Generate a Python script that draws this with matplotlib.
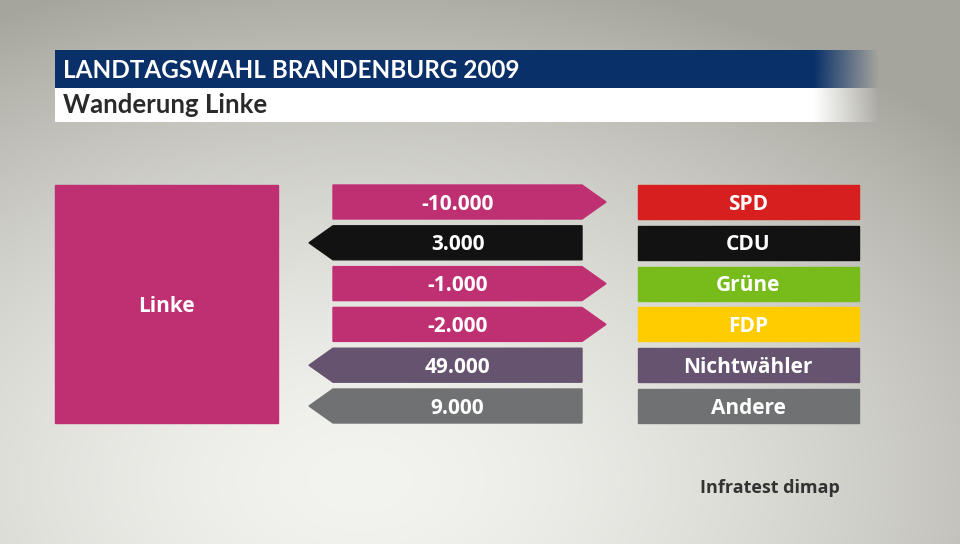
import numpy as np
import matplotlib.pyplot as plt
from matplotlib.patches import Polygon, Rectangle

# =========================
# data
# =========================
parties = ["SPD", "CDU", "Grüne", "FDP", "Nichtwähler", "Andere"]
values = [-10000, 3000, -1000, -2000, 49000, 9000]
party_colors = ["#d81f1f", "#121212", "#78bc1b", "#ffcc00", "#66536f", "#707172"]
source_party = "Linke"
source_color = "#bf3073"
title = "LANDTAGSWAHL BRANDENBURG 2009"
subtitle = "Wanderung Linke"
credit = "Infratest dimap"

FONT = "Lato"
BOXFONT = "Open Sans"
W, H = 960, 544

fig = plt.figure(figsize=(W / 100, H / 100), dpi=100)
ax = fig.add_axes([0, 0, 1, 1])
ax.set_xlim(0, W)
ax.set_ylim(H, 0)
ax.axis("off")

# =========================
# background gradient
# =========================
yy, xx = np.mgrid[0:H, 0:W]
r = np.sqrt(((xx - 360) / 820) ** 2 + ((yy - 480) / 520) ** 2)
t = np.clip(r, 0, 1) ** 1.6
light = np.array([243, 243, 239]) / 255
dark = np.array([166, 165, 157]) / 255
bg = light[None, None, :] * (1 - t[..., None]) + dark[None, None, :] * t[..., None]
ax.imshow(bg, extent=[0, W, H, 0], zorder=0, aspect="auto")

# =========================
# header bars with right fade
# =========================
def fade_bar(x0, x1, y0, y1, color, fade_start):
    rgb = np.array(plt.matplotlib.colors.to_rgb(color))
    xs = np.linspace(x0, x1, 400)
    alpha = np.clip((x1 - xs) / (x1 - fade_start), 0, 1)
    img = np.zeros((1, 400, 4))
    img[0, :, :3] = rgb
    img[0, :, 3] = alpha
    ax.imshow(img, extent=[x0, x1, y1, y0], zorder=1, aspect="auto",
              interpolation="bilinear")

fade_bar(55, 880, 50, 88, "#0a3069", 815)
fade_bar(55, 880, 88, 122, "#ffffff", 815)
ax.text(63, 70, title, color="white", fontsize=17.5, fontweight="bold",
        family=FONT, va="center", ha="left", zorder=2)
ax.text(63, 105, subtitle, color="#2a2a2a", fontsize=18.5, fontweight="bold",
        family=FONT, va="center", ha="left", zorder=2)

# =========================
# source box
# =========================
ax.add_patch(Rectangle((55, 185), 223, 238, color=source_color, zorder=2))
ax.text(166, 306, source_party, color="white", fontsize=15, fontweight="bold",
        family=BOXFONT, ha="center", va="center", zorder=3)

# =========================
# arrows + party boxes
# =========================
top0, step, h = 185, 40.8, 34
bx0, bx1, tip = 333, 582, 24
for i, (p, v, c) in enumerate(zip(parties, values, party_colors)):
    y0 = top0 + i * step
    y1 = y0 + h
    ym = (y0 + y1) / 2
    if v < 0:
        pts = [(bx0, y0), (bx1, y0), (bx1 + tip, ym), (bx1, y1), (bx0, y1)]
        col = source_color
    else:
        pts = [(bx0 - tip, ym), (bx0, y0), (bx1, y0), (bx1, y1), (bx0, y1)]
        col = c
    ax.add_patch(Polygon(pts, closed=True, color=col, zorder=2))
    label = f"{v:,}".replace(",", ".")
    ax.text((bx0 + bx1) / 2, ym + 2, label, color="white", fontsize=15,
            fontweight="bold", family=BOXFONT, ha="center", va="center", zorder=3)

    ax.add_patch(Rectangle((638, y0), 221, h, color=c, zorder=2))
    ax.text(748, ym + 2, p, color="white", fontsize=15, fontweight="bold",
            family=BOXFONT, ha="center", va="center", zorder=3)

ax.text(770, 488, credit, color="#333333", fontsize=13, fontweight="bold",
        family=BOXFONT, ha="center", va="center", zorder=3)

plt.savefig("out.png", dpi=100)
